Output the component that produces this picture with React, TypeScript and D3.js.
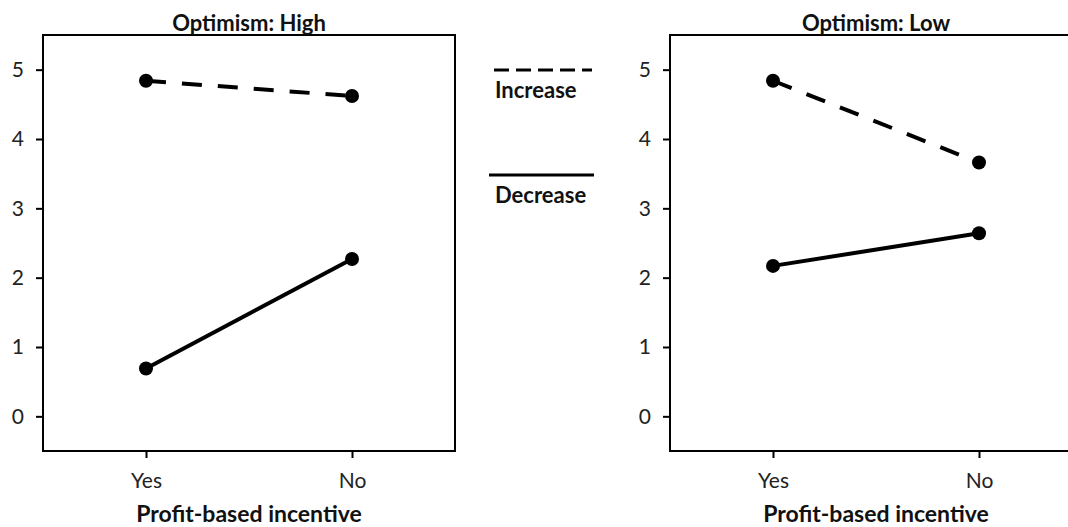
import { useEffect, useRef } from "react"
import * as d3 from "d3"

// data
const categories = ["Yes", "No"]
const panels = ["Optimism: High", "Optimism: Low"]
const increaseValues = [
  [4.84, 4.62],
  [4.84, 3.66],
]
const decreaseValues = [
  [0.69, 2.27],
  [2.17, 2.64],
]
const yTicks = [0, 1, 2, 3, 4, 5]
const seriesNames = ["Increase", "Decrease"]
const xTitle = "Profit-based incentive"

const FONT = "Lato, 'Open Sans', sans-serif"

export default function App() {
  const svgRef = useRef<SVGSVGElement>(null)

  useEffect(() => {
    if (!svgRef.current) return
    const root = d3.select(svgRef.current)
    root.selectAll("*").remove()

    const width = 1068
    const height = 527
    root.attr("width", width).attr("height", height)

    const top = 35
    const bottom = 451
    const panelW = 412
    const panelLefts = [43, 670]

    const y = d3.scaleLinear().domain([-0.5, 5.5]).range([bottom, top])

    panels.forEach((title, pi) => {
      const left = panelLefts[pi]
      const x = d3
        .scalePoint<string>()
        .domain(categories)
        .range([left, left + panelW])
        .padding(0.5)

      const g = root.append("g")

      // frame
      g.append("rect")
        .attr("x", left)
        .attr("y", top)
        .attr("width", panelW)
        .attr("height", bottom - top)
        .attr("fill", "none")
        .attr("stroke", "#000")
        .attr("stroke-width", 2)

      // y axis
      const yAxis = g
        .append("g")
        .attr("transform", `translate(${left},0)`)
        .call(d3.axisLeft(y).tickValues(yTicks).tickSize(7).tickPadding(12).tickFormat(d3.format("d")))
      yAxis.select(".domain").remove()
      yAxis.selectAll("line").attr("stroke", "#000").attr("stroke-width", 2)
      yAxis
        .selectAll("text")
        .attr("fill", "#222")
        .style("font-family", FONT)
        .style("font-size", "21px")

      // x axis
      const xAxis = g
        .append("g")
        .attr("transform", `translate(0,${bottom})`)
        .call(d3.axisBottom(x).tickSize(7).tickPadding(0))
      xAxis.select(".domain").remove()
      xAxis.selectAll("line").attr("stroke", "#000").attr("stroke-width", 2)
      xAxis
        .selectAll("text")
        .attr("dy", null)
        .attr("y", 37)
        .attr("fill", "#222")
        .style("font-family", FONT)
        .style("font-size", "21px")

      // title
      g.append("text")
        .attr("x", left + panelW / 2)
        .attr("y", 31)
        .attr("text-anchor", "middle")
        .style("font-family", FONT)
        .style("font-weight", "bold")
        .style("font-size", "22px")
        .attr("fill", "#111")
        .text(title)

      // x title
      g.append("text")
        .attr("x", left + panelW / 2)
        .attr("y", 522)
        .attr("text-anchor", "middle")
        .style("font-family", FONT)
        .style("font-weight", "bold")
        .style("font-size", "23px")
        .attr("fill", "#111")
        .text(xTitle)

      const line = d3
        .line<number>()
        .x((_, i) => x(categories[i]) as number)
        .y((d) => y(d))

      const series = [
        { vals: increaseValues[pi], dash: "20,16" },
        { vals: decreaseValues[pi], dash: null },
      ]
      series.forEach((s) => {
        g.append("path")
          .datum(s.vals)
          .attr("d", line)
          .attr("fill", "none")
          .attr("stroke", "#000")
          .attr("stroke-width", 4)
          .attr("stroke-dasharray", s.dash)
        g.selectAll(null)
          .data(s.vals)
          .enter()
          .append("circle")
          .attr("cx", (_, i) => x(categories[i]) as number)
          .attr("cy", (d) => y(d))
          .attr("r", 7)
          .attr("fill", "#000")
      })
    })

    // legend
    const legend = root.append("g")
    const legendItems = [
      { name: seriesNames[0], dash: "15,7", y: 70, x1: 494, x2: 592 },
      { name: seriesNames[1], dash: null, y: 175, x1: 489, x2: 594 },
    ]
    legendItems.forEach((it) => {
      legend
        .append("line")
        .attr("x1", it.x1)
        .attr("x2", it.x2)
        .attr("y1", it.y)
        .attr("y2", it.y)
        .attr("stroke", "#000")
        .attr("stroke-width", 3)
        .attr("stroke-dasharray", it.dash)
      legend
        .append("text")
        .attr("x", 495)
        .attr("y", it.y + 28)
        .style("font-family", FONT)
        .style("font-weight", "bold")
        .style("font-size", "22px")
        .attr("fill", "#111")
        .text(it.name)
    })
  }, [])

  return (
    <div style={{ position: "absolute", left: 0, top: 0, width: 1068, height: 527, background: "#fff" }}>
      <svg ref={svgRef} style={{ display: "block" }}></svg>
    </div>
  )
}
